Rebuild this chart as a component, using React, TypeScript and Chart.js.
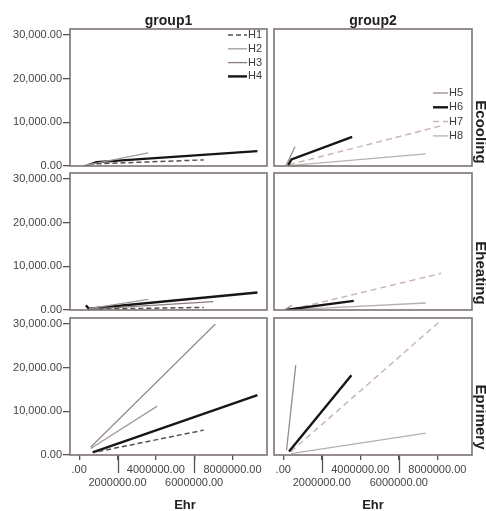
import React, { useEffect, useRef } from "react";
import { Chart, registerables } from "chart.js";
Chart.register(...registerables);
Chart.defaults.font.family = '"Liberation Sans", Arial, sans-serif';

// ---------- data ----------
const GROUPS = ["group1", "group2"];
const ROWS = ["Ecooling", "Eheating", "Eprimery"];
const SERIES_G1 = ["H1", "H2", "H3", "H4"];
const SERIES_G2 = ["H5", "H6", "H7", "H8"];
const X_TICKS = [0, 2000000, 4000000, 6000000, 8000000];
const X_TICK_LABELS = [".00", "2000000.00", "4000000.00", "6000000.00", "8000000.00"];
const Y_TICKS = [0, 10000, 20000, 30000];
const Y_TICK_LABELS = ["0.00", "10,000.00", "20,000.00", "30,000.00"];
const X_TITLE = "Ehr";

// group1 - Ecooling
const H1_COOLING = [[900000, 500], [6500000, 1400]];
const H2_COOLING = [[400000, 200], [3600000, 3000]];
const H3_COOLING = [[200000, 0], [800000, 600]];
const H4_COOLING = [[400000, 100], [900000, 900], [9300000, 3400]];
// group1 - Eheating
const H1_HEATING = [[1000000, 200], [6500000, 600]];
const H2_HEATING = [[500000, 300], [3600000, 2450]];
const H3_HEATING = [[600000, 200], [7000000, 1900]];
const H4_HEATING = [[350000, 1100], [500000, 300], [9300000, 4000]];
// group1 - Eprimery
const H1_PRIMERY = [[1000000, 800], [6500000, 5700]];
const H2_PRIMERY = [[600000, 1500], [4070000, 11200]];
const H3_PRIMERY = [[600000, 1800], [7100000, 30000]];
const H4_PRIMERY = [[700000, 600], [9300000, 13700]];
// group2 - Ecooling
const H5_COOLING = [[160000, 200], [610000, 4400]];
const H6_COOLING = [[250000, 200], [430000, 1500], [3580000, 6700]];
const H7_COOLING = [[300000, 300], [8200000, 9200]];
const H8_COOLING = [[300000, 100], [7400000, 2800]];
// group2 - Eheating
const H5_HEATING = [[100000, 100], [450000, 1100]];
const H6_HEATING = [[100000, 0], [3660000, 2100]];
const H7_HEATING = [[500000, 200], [8200000, 8400]];
const H8_HEATING = [[500000, 100], [7400000, 1600]];
// group2 - Eprimery
const H5_PRIMERY = [[170000, 1100], [650000, 20600]];
const H6_PRIMERY = [[300000, 800], [3540000, 18300]];
const H7_PRIMERY = [[400000, 800], [8200000, 30900]];
const H8_PRIMERY = [[400000, 300], [7400000, 5000]];

const PANEL_SERIES = [
  [
    [H1_COOLING, H2_COOLING, H3_COOLING, H4_COOLING],
    [H5_COOLING, H6_COOLING, H7_COOLING, H8_COOLING],
  ],
  [
    [H1_HEATING, H2_HEATING, H3_HEATING, H4_HEATING],
    [H5_HEATING, H6_HEATING, H7_HEATING, H8_HEATING],
  ],
  [
    [H1_PRIMERY, H2_PRIMERY, H3_PRIMERY, H4_PRIMERY],
    [H5_PRIMERY, H6_PRIMERY, H7_PRIMERY, H8_PRIMERY],
  ],
];

// ---------- styles ----------
const STYLE: Record<string, { color: string; width: number; dash: number[] }> = {
  H1: { color: "#555050", width: 1.5, dash: [5, 3] },
  H2: { color: "#a09a9a", width: 1.3, dash: [] },
  H3: { color: "#8c7c7a", width: 1.3, dash: [] },
  H4: { color: "#161616", width: 2.4, dash: [] },
  H5: { color: "#9c8a88", width: 1.3, dash: [] },
  H6: { color: "#161616", width: 2.4, dash: [] },
  H7: { color: "#cbb6b4", width: 1.5, dash: [6, 4] },
  H8: { color: "#b4b0b0", width: 1.3, dash: [] },
};

const COL_LEFT = [70, 274];
const COL_W = [197, 198];
const ROW_TOP = [29, 173, 318];
const ROW_H = 137;
const Y_AXIS_W = 66;
const X_AXIS_H = 36;
const PAD = 8;
const X_MIN = -480000;
const X_MAX = 9800000;
const Y_MIN = 0;
const Y_MAX = 31400;

function Panel({ row, col }: { row: number; col: number }) {
  const ref = useRef<HTMLCanvasElement | null>(null);
  const showY = col === 0;
  const showX = row === 2;
  const yw = showY ? Y_AXIS_W : 0;
  const xh = showX ? X_AXIS_H : 0;
  const left = COL_LEFT[col] - yw - PAD;
  const top = ROW_TOP[row] - PAD;
  const width = COL_W[col] + yw + 2 * PAD;
  const height = ROW_H + xh + 2 * PAD;

  useEffect(() => {
    if (!ref.current) return;
    const names = col === 0 ? SERIES_G1 : SERIES_G2;
    const series = PANEL_SERIES[row][col];
    const datasets = names.map((n, i) => ({
      label: n,
      data: series[i].map(([x, y]) => ({ x, y })),
      showLine: true,
      borderColor: STYLE[n].color,
      backgroundColor: STYLE[n].color,
      borderWidth: STYLE[n].width,
      borderDash: STYLE[n].dash,
      pointRadius: 0,
      fill: false,
      tension: 0,
    }));

    let legendCfg: any = null;
    if (row === 0 && col === 0) legendCfg = { fromRight: 39, len: 19, dy: 6, rowH: 13.8 };
    if (row === 0 && col === 1) legendCfg = { fromRight: 39, len: 15, dy: 64, rowH: 14.3 };

    const framePlugin = {
      id: "frame",
      afterDraw(chart: any) {
        const { ctx, chartArea } = chart;
        ctx.save();
        if (legendCfg) {
          chart.data.datasets.forEach((ds: any, i: number) => {
            const y = chartArea.top + legendCfg.dy + i * legendCfg.rowH;
            const x0 = chartArea.right - legendCfg.fromRight;
            ctx.strokeStyle = ds.borderColor;
            ctx.lineWidth = ds.borderWidth;
            ctx.setLineDash(ds.borderDash || []);
            ctx.beginPath();
            ctx.moveTo(x0, y);
            ctx.lineTo(x0 + legendCfg.len, y);
            ctx.stroke();
            ctx.setLineDash([]);
            ctx.fillStyle = "#3a3a3a";
            ctx.font = '11px "Liberation Sans", Arial, sans-serif';
            ctx.textBaseline = "middle";
            ctx.textAlign = "left";
            ctx.fillText(ds.label, x0 + legendCfg.len + 1, y);
          });
        }
        if (showX) {
          const xs = chart.scales.x;
          ctx.strokeStyle = "#555";
          ctx.lineWidth = 1.3;
          [1, 3].forEach((i) => {
            const px = Math.round(xs.getPixelForValue(X_TICKS[i])) + 0.5;
            ctx.beginPath();
            ctx.moveTo(px, chartArea.bottom);
            ctx.lineTo(px, chartArea.bottom + 18);
            ctx.stroke();
          });
        }
        ctx.strokeStyle = "#7d7373";
        ctx.lineWidth = 1.6;
        ctx.strokeRect(chartArea.left, chartArea.top, chartArea.right - chartArea.left, chartArea.bottom - chartArea.top);
        ctx.restore();
      },
    };

    const chart = new Chart(ref.current, {
      type: "scatter",
      data: { datasets } as any,
      plugins: [framePlugin],
      options: {
        animation: false,
        responsive: false,
        maintainAspectRatio: false,
        layout: { padding: { left: PAD, right: PAD, top: PAD, bottom: PAD } },
        plugins: { legend: { display: false }, tooltip: { enabled: false }, title: { display: false } },
        scales: {
          x: {
            type: "linear",
            display: showX,
            min: X_MIN,
            max: X_MAX,
            afterBuildTicks: (s: any) => {
              s.ticks = X_TICKS.map((v) => ({ value: v }));
            },
            afterFit: (s: any) => {
              if (!showX) return;
              s.height = X_AXIS_H;
              s.paddingLeft = 0;
              s.paddingRight = 0;
            },
            grid: { drawOnChartArea: false, drawTicks: true, tickLength: 5, color: "#555", lineWidth: 1.3 },
            border: { display: false },
            ticks: {
              autoSkip: false,
              maxRotation: 0,
              minRotation: 0,
              padding: 3,
              color: "#444",
              font: { size: 11 },
              callback: (v: any) => {
                const i = X_TICKS.indexOf(Number(v));
                if (i < 0) return "";
                return i % 2 === 1 ? ["", X_TICK_LABELS[i]] : X_TICK_LABELS[i];
              },
            },
          },
          y: {
            type: "linear",
            display: showY,
            min: Y_MIN,
            max: Y_MAX,
            afterBuildTicks: (s: any) => {
              s.ticks = Y_TICKS.map((v) => ({ value: v }));
            },
            afterFit: (s: any) => {
              if (!showY) return;
              s.width = Y_AXIS_W;
              s.paddingTop = 0;
              s.paddingBottom = 0;
            },
            grid: { drawOnChartArea: false, drawTicks: true, tickLength: 7, color: "#555", lineWidth: 1.3 },
            border: { display: false },
            ticks: {
              autoSkip: false,
              padding: 1,
              color: "#444",
              font: { size: 11 },
              callback: (v: any) => {
                const i = Y_TICKS.indexOf(Number(v));
                return i < 0 ? "" : Y_TICK_LABELS[i];
              },
            },
          },
        },
      } as any,
    });
    return () => chart.destroy();
  }, [row, col]);

  return (
    <canvas
      ref={ref}
      width={width}
      height={height}
      style={{ position: "absolute", left, top, width, height }}
    />
  );
}

const ROW_LABEL_CY = [132, 273, 417];
const TITLE_FONT = '"Liberation Sans", Arial, sans-serif';

export default function App() {
  return (
    <div
      style={{
        position: "absolute",
        left: 0,
        top: 0,
        width: 486,
        height: 511,
        overflow: "hidden",
        background: "#fff",
      }}
    >
      {ROWS.map((_, r) => GROUPS.map((_, c) => <Panel key={`${r}-${c}`} row={r} col={c} />))}
      {GROUPS.map((g, c) => (
        <div
          key={g}
          style={{
            position: "absolute",
            left: COL_LEFT[c] + COL_W[c] / 2,
            top: 20,
            transform: "translate(-50%, -50%)",
            font: `bold 14px ${TITLE_FONT}`,
            color: "#222",
            whiteSpace: "nowrap",
            lineHeight: 1,
          }}
        >
          {g}
        </div>
      ))}
      {GROUPS.map((g, c) => (
        <div
          key={g + "x"}
          style={{
            position: "absolute",
            left: c === 0 ? 185 : COL_LEFT[c] + COL_W[c] / 2,
            top: 504,
            transform: "translate(-50%, -50%)",
            font: `bold 13px ${TITLE_FONT}`,
            color: "#222",
            whiteSpace: "nowrap",
            lineHeight: 1,
          }}
        >
          {X_TITLE}
        </div>
      ))}
      {ROWS.map((rl, r) => (
        <div
          key={rl}
          style={{
            position: "absolute",
            left: 481,
            top: ROW_LABEL_CY[r],
            transform: "translate(-50%, -50%) rotate(90deg)",
            font: `bold 15px ${TITLE_FONT}`,
            color: "#222",
            whiteSpace: "nowrap",
            lineHeight: 1,
          }}
        >
          {rl}
        </div>
      ))}
    </div>
  );
}
